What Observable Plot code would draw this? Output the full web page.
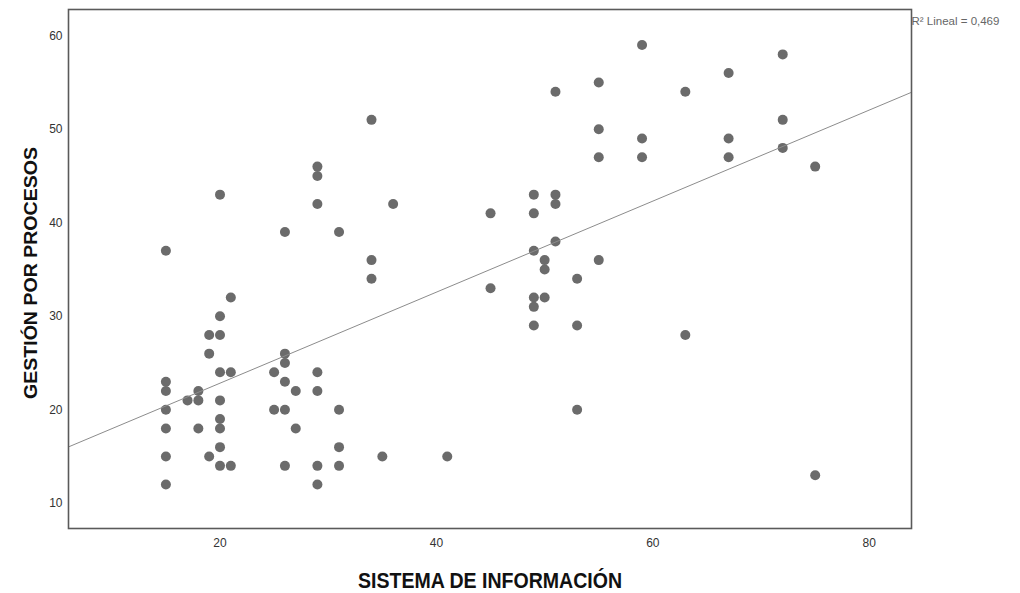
<!DOCTYPE html>
<html>
<head>
<meta charset="utf-8">
<script src="https://cdn.jsdelivr.net/npm/d3@7"></script>
<script src="https://cdn.jsdelivr.net/npm/@observablehq/plot@0.6"></script>
<style>
  html, body { margin: 0; padding: 0; background: #fff; }
  #chart svg { display: block; }
</style>
</head>
<body>
<div id="chart"></div>
<script>
// SISTEMA DE INFORMACIÓN (x) and GESTIÓN POR PROCESOS (y)
const sistema = [
  15,15,15,15,15,15,15,
  17,
  18,18,18,
  19,19,19,
  20,20,20,20,20,20,20,20,20,
  21,21,21,
  25,25,
  26,26,26,26,26,26,
  27,27,
  29,29,29,29,29,29,29,
  31,31,31,31,
  34,34,34,
  35,
  36,
  41,
  45,45,
  49,49,49,49,49,49,
  50,50,50,
  51,51,51,51,
  53,53,53,
  55,55,55,55,
  59,59,59,
  63,63,
  67,67,67,
  72,72,72,
  75,75
];
const gestion = [
  37,23,22,20,18,15,12,
  21,
  22,21,18,
  28,26,15,
  43,30,28,24,21,19,18,16,14,
  32,24,14,
  24,20,
  39,26,25,23,20,14,
  22,18,
  46,45,42,24,22,14,12,
  39,20,16,14,
  51,36,34,
  15,
  42,
  15,
  41,33,
  43,41,37,32,31,29,
  36,35,32,
  54,43,42,38,
  34,29,20,
  55,50,47,36,
  59,49,47,
  54,28,
  56,49,47,
  58,51,48,
  46,13
];
const xTicks = [20, 40, 60, 80];
const yTicks = [10, 20, 30, 40, 50, 60];
const xLabel = "SISTEMA DE INFORMACIÓN";
const yLabel = "GESTIÓN POR PROCESOS";
const r2Label = "R² Lineal = 0,469";

const xDomain = [6.0, 83.9];
const yDomain = [7.3, 62.8];

const data = sistema.map((x, i) => ({x, y: gestion[i]}));

// least-squares fit
const mx = d3.mean(data, d => d.x), my = d3.mean(data, d => d.y);
const sxy = d3.sum(data, d => (d.x - mx) * (d.y - my));
const sxx = d3.sum(data, d => (d.x - mx) ** 2);
const slope = sxy / sxx, intercept = my - slope * mx;
const fit = xDomain.map(x => ({x, y: intercept + slope * x}));

const font = "'Liberation Sans', Arial, Helvetica, sans-serif";

const chart = Plot.plot({
  width: 1020,
  height: 593,
  marginLeft: 68,
  marginRight: 109,
  marginTop: 9,
  marginBottom: 65,
  style: {fontFamily: font, fontSize: "12px", color: "#333", background: "#fff"},
  x: {domain: xDomain},
  y: {domain: yDomain},
  marks: [
    Plot.axisX({ticks: xTicks, tickSize: 0, tickPadding: 10, label: null, fontSize: 12, fill: "#333"}),
    Plot.axisY({ticks: yTicks, tickSize: 0, tickPadding: 6, label: null, fontSize: 12, fill: "#333"}),
    Plot.dot(data, {x: "x", y: "y", r: 5, fill: "#6b6b6b", stroke: "none"}),
    Plot.line(fit, {x: "x", y: "y", stroke: "#8c8c8c", strokeWidth: 1}),
    Plot.frame({stroke: "#5a5a5a", strokeWidth: 1.6}),
    Plot.text([yLabel], {text: d => d, frameAnchor: "left", dx: -37, dy: 4, rotate: -90, fontSize: 18, fontWeight: "bold", fill: "#111", lineAnchor: "middle", textAnchor: "middle"}),
    Plot.text([xLabel], {text: d => d, frameAnchor: "bottom", dy: 52, fontSize: 22, fontWeight: "bold", fill: "#111", lineAnchor: "middle", textAnchor: "middle"}),
    Plot.text([r2Label], {text: d => d, frameAnchor: "top-right", dx: 0, dy: 12, fontSize: 11.5, fill: "#666", textAnchor: "start", lineAnchor: "middle"})
  ]
});
document.getElementById("chart").appendChild(chart);

// fit the axis titles to the widths they take in the reference
d3.select(chart).selectAll("text").each(function () {
  const t = this.textContent;
  if (t === xLabel) d3.select(this).attr("textLength", 264).attr("lengthAdjust", "spacingAndGlyphs");
  if (t === yLabel) d3.select(this).attr("textLength", 252).attr("lengthAdjust", "spacingAndGlyphs");
});
</script>
</body>
</html>
